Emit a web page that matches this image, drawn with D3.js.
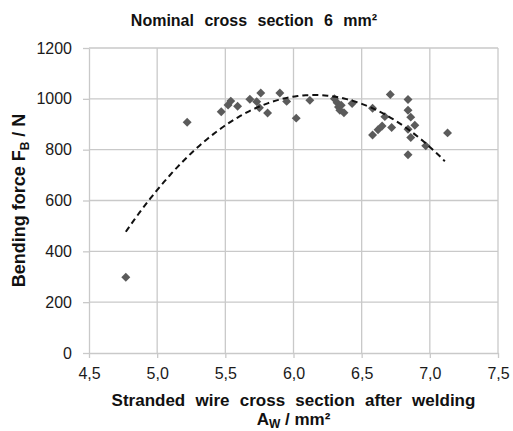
<!DOCTYPE html>
<html><head><meta charset="utf-8">
<script src="https://cdn.jsdelivr.net/npm/d3@7"></script>
<style>
body{margin:0;background:#fff}
svg{display:block}
text{font-family:"Liberation Sans",Arial,Helvetica,sans-serif}
</style>
</head><body>
<svg id="c" width="513" height="431"></svg>
<script>
// Measured data: stranded wire cross section after welding (mm²) vs bending force (N)
const xValues = [4.77, 5.22, 5.47, 5.52, 5.54, 5.59, 5.68, 5.73, 5.76, 5.75, 5.81, 5.90, 5.95, 6.02, 6.12,
                 6.30, 6.32, 6.33, 6.34, 6.35, 6.37, 6.43, 6.58, 6.58, 6.62, 6.65, 6.67, 6.71, 6.72,
                 6.84, 6.84, 6.86, 6.84, 6.89, 6.86, 6.84, 6.97, 7.13];
const yValues = [298, 908, 949, 976, 991, 971, 998, 989, 1023, 965, 944, 1023, 990, 924, 994,
                 1000, 985, 968, 955, 975, 945, 982, 963, 858, 878, 893, 930, 1017, 887,
                 997, 955, 928, 880, 896, 848, 780, 815, 866];
// Polynomial (2nd order) trend line: a*x^2 + b*x + c
const trendCoeffs = [-282.6, 3475.98, -9673.6];
const trendRange = [4.77, 7.11];

const xTickValues = [4.5, 5.0, 5.5, 6.0, 6.5, 7.0, 7.5];
const xTickLabels = ["4,5", "5,0", "5,5", "6,0", "6,5", "7,0", "7,5"];
const yTickValues = [0, 200, 400, 600, 800, 1000, 1200];
const yTickLabels = ["0", "200", "400", "600", "800", "1000", "1200"];

const titleText = "Nominal cross section 6 mm²";
const xTitle1 = "Stranded wire cross section after welding";

const svg = d3.select('#c');
const x = d3.scaleLinear().domain([4.5, 7.5]).range([89, 498]);
const y = d3.scaleLinear().domain([0, 1200]).range([353, 48]);

const gridColor = '#c9c9c9';

// Gridlines
svg.append('g').selectAll('line').data(yTickValues.slice(1)).join('line')
  .attr('x1', x(4.5)).attr('x2', x(7.5))
  .attr('y1', d => y(d)).attr('y2', d => y(d))
  .attr('stroke', gridColor).attr('stroke-width', 1.3);
svg.append('g').selectAll('line').data(xTickValues.slice(1)).join('line')
  .attr('y1', y(0)).attr('y2', y(1200))
  .attr('x1', d => x(d)).attr('x2', d => x(d))
  .attr('stroke', gridColor).attr('stroke-width', 1.3);

// Axes
const yAxis = d3.axisLeft(y).tickValues(yTickValues)
  .tickFormat((d, i) => yTickLabels[i]).tickSize(6).tickSizeOuter(0).tickPadding(11);
const gy = svg.append('g').attr('transform', `translate(${x(4.5)},0)`).call(yAxis);
const xAxis = d3.axisBottom(x).tickValues(xTickValues)
  .tickFormat((d, i) => xTickLabels[i]).tickSize(5).tickSizeOuter(0).tickPadding(10);
const gx = svg.append('g').attr('transform', `translate(0,${y(0)})`).call(xAxis);
[gx, gy].forEach(g => {
  g.select('.domain').attr('stroke', gridColor).attr('stroke-width', 1.3);
  g.selectAll('.tick line').attr('stroke', gridColor).attr('stroke-width', 1.3);
  g.selectAll('.tick text').attr('fill', '#1a1a1a')
    .style('font-family', '"Liberation Sans",Arial,sans-serif').style('font-size', '16px');
});

// Data points (diamonds)
const diamond = d3.symbol().type(d3.symbolSquare).size(40);
svg.append('g').selectAll('path').data(xValues.map((v, i) => [v, yValues[i]])).join('path')
  .attr('d', diamond)
  .attr('transform', d => `translate(${x(d[0])},${y(d[1])}) rotate(45)`)
  .attr('fill', '#5b5b5b');

// Trend line (dashed)
const trendPts = d3.range(trendRange[0], trendRange[1] + 1e-9, 0.02)
  .map(v => [v, trendCoeffs[0] * v * v + trendCoeffs[1] * v + trendCoeffs[2]]);
svg.append('path').datum(trendPts)
  .attr('d', d3.line().x(d => x(d[0])).y(d => y(d[1])))
  .attr('fill', 'none').attr('stroke', '#111').attr('stroke-width', 2)
  .attr('stroke-dasharray', '6,4');

// Title
svg.append('text').attr('x', 254).attr('y', 26).attr('text-anchor', 'middle')
  .style('font-size', '16px').style('font-weight', 'bold').style('word-spacing', '6px')
  .attr('fill', '#111').text(titleText);

// X-axis title
const cx = (x(4.5) + x(7.5)) / 2;
svg.append('text').attr('x', cx).attr('y', 405.5).attr('text-anchor', 'middle')
  .style('font-size', '17px').style('font-weight', 'bold').style('word-spacing', '5.5px')
  .attr('fill', '#111').text(xTitle1);
const t2 = svg.append('text').attr('x', cx).attr('y', 425).attr('text-anchor', 'middle')
  .style('font-size', '17px').style('font-weight', 'bold').attr('fill', '#111');
t2.append('tspan').text('A');
t2.append('tspan').attr('dy', 3).style('font-size', '12px').text('W');
t2.append('tspan').attr('dy', -3).text(' / mm²');

// Y-axis title
const ty = svg.append('text').attr('transform', `translate(25,${(y(0) + y(1200)) / 2}) rotate(-90)`)
  .attr('text-anchor', 'middle').style('font-size', '18px').style('font-weight', 'bold')
  .attr('fill', '#111');
ty.append('tspan').text('Bending force F');
ty.append('tspan').attr('dy', 4).style('font-size', '12px').text('B');
ty.append('tspan').attr('dy', -4).text(' / N');
</script>
</body></html>
